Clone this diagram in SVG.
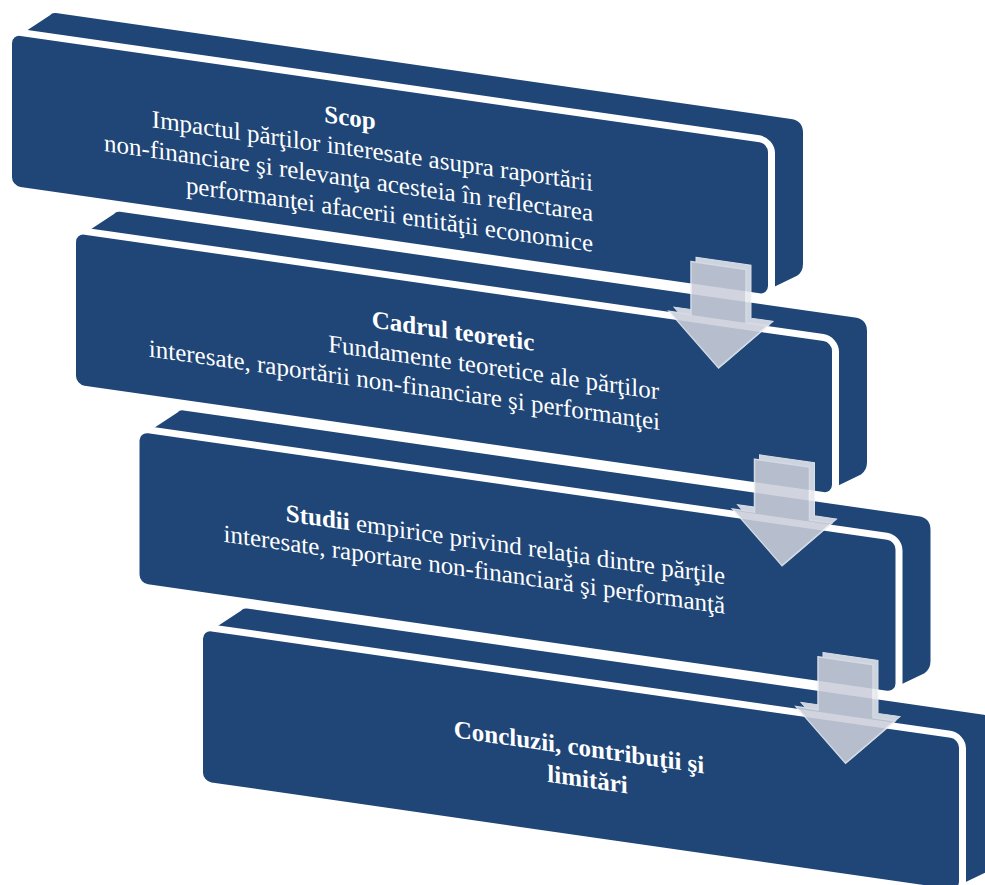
<svg xmlns="http://www.w3.org/2000/svg" width="985" height="885" viewBox="0 0 985 885">
<style>
.ext{fill:#1F4677}
.face{fill:#1F4677;stroke:#FFFFFF;stroke-width:7}
.t{font-family:"Liberation Serif","Times New Roman",serif;font-size:25px;fill:#FFFFFF}
.b{font-weight:bold}
.ab{fill:#E6E8EE;stroke:#F2F3F6;stroke-width:1}
.af{fill:#CBCFDA;stroke:#EDEFF3;stroke-width:1.5}
</style>
<defs>
<g id="blk">
<path class="ext" d="M 3,3 L 38,-25 Q 40,-28 44,-28 L 779,-28 Q 791,-28 791,-16 L 791,115 Q 791,123 785,128 L 753,148 L 3,148 Z"/>
<rect class="face" x="-3.5" y="-3.5" width="763" height="158" rx="12"/>
</g>
<g id="arr" opacity="0.88">
<polygon class="ab" points="696,157 751,157 751,210 773,210 723.5,259.5 674,210 696,210"/>
<polygon class="af" points="691,162 746,162 746,215 768,215 718.5,264.5 669,215 691,215"/>
</g>
</defs>
<rect width="985" height="885" fill="#FFFFFF"/>
<g transform="matrix(1 0.144 0 1 0 0)">
<g id="n4">
<use href="#blk" transform="translate(203 601)"/>
<text class="t b" x="579" y="672" text-anchor="middle">Concluzii, contribuţii şi</text>
<text class="t b" x="587.5" y="703" text-anchor="middle">limitări</text>
</g>
<g id="n3">
<use href="#blk" transform="translate(139.5 412)"/>
<text class="t" x="725" y="480" text-anchor="end"><tspan class="b">Studii</tspan> empirice privind relaţia dintre părţile</text>
<text class="t" x="725" y="509.5" text-anchor="end">interesate, raportare non-financiară şi performanţă</text>
</g>
<g id="n2">
<use href="#blk" transform="translate(76 222.5)"/>
<text class="t b" x="453" y="274" text-anchor="middle">Cadrul teoretic</text>
<text class="t" x="659" y="304.5" text-anchor="end">Fundamente teoretice ale părţilor</text>
<text class="t" x="660" y="335" text-anchor="end">interesate, raportării non-financiare şi performanţei</text>
</g>
<g id="n1">
<use href="#blk" transform="translate(12 33)"/>
<text class="t b" x="350" y="75.5" text-anchor="middle">Scop</text>
<text class="t" x="593" y="105.5" text-anchor="end">Impactul părţilor interesate asupra raportării</text>
<text class="t" x="593" y="136" text-anchor="end">non-financiare şi relevanţa acesteia în reflectarea</text>
<text class="t" x="593" y="166.5" text-anchor="end">performanţei afacerii entităţii economice</text>
</g>
<g id="connectors">
<use href="#arr"/>
<use href="#arr" transform="translate(63.5 188.5)"/>
<use href="#arr" transform="translate(127 377)"/>
</g>
</g>
</svg>
